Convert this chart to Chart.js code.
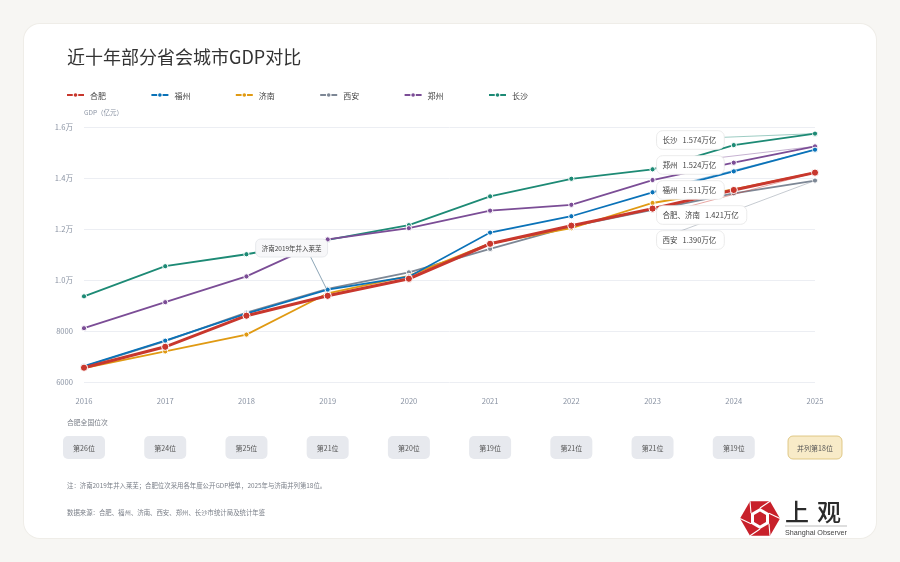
<!DOCTYPE html>
<html lang="zh-CN">
<head>
<meta charset="utf-8">
<title>近十年部分省会城市GDP对比</title>
<script src="https://cdn.jsdelivr.net/npm/chart.js@4.4.1/dist/chart.umd.min.js"></script>
<style>
  html, body { margin: 0; padding: 0; }
  body { width: 900px; height: 562px; background: #f7f6f3; position: relative; overflow: hidden;
         font-family: "Noto Sans CJK SC", "Noto Sans", sans-serif; }
  .card { position: absolute; left: 24px; top: 24px; width: 852px; height: 514px; background: #fff;
          border-radius: 16px; box-shadow: 0 0 0 1px #efede8; }
  .card canvas { position: absolute; left: 0; top: 0; }
  .title { position: absolute; left: 43px; top: 19px; font-size: 18px; line-height: 26px; color: #333; }
  .note { position: absolute; left: 43px; font-size: 6.4px; line-height: 8px; color: #7a7f88; white-space: nowrap; }
  .logo { position: absolute; left: 714px; top: 472px; width: 136px; height: 44px; }
  .logo-cn { position: absolute; left: 761px; top: 472px; font-size: 24px; line-height: 30px; letter-spacing: 8px;
             color: #2b2b2b; font-weight: 500; }
  .logo-rule { position: absolute; left: 761px; top: 501px; width: 62px; height: 2px; background: #dedede; }
  .logo-en { position: absolute; left: 761px; top: 504px; font-family: "Liberation Sans", Arial, sans-serif;
             font-size: 7.2px; line-height: 9px; color: #444; white-space: nowrap; }
</style>
</head>
<body>
<div class="card">
  <canvas id="gdp" width="852" height="514" style="width:852px;height:514px"></canvas>
  <div class="title">近十年部分省会城市GDP对比</div>
  <div class="note" style="top:458px">注：济南2019年并入莱芜；合肥位次采用各年度公开GDP榜单，2025年与济南并列第18位。</div>
  <div class="note" style="top:485px">数据来源：合肥、福州、济南、西安、郑州、长沙市统计局及统计年鉴</div>
  <svg class="logo" viewBox="0 0 136 44">
    <polygon points="42,22.5 32,39.8 12,39.8 2,22.5 12,5.2 32,5.2" fill="#c8202a"/>
    <polygon points="22,12 31,17.2 31,27.8 22,33 13,27.8 13,17.2" fill="#fff"/>
    <polygon points="22,15.5 28,19 28,26 22,29.5 16,26 16,19" fill="#c8202a"/>
    <g stroke="#fff" stroke-width="1.1">
      <line x1="22" y1="12" x2="32" y2="5.2"/>
      <line x1="31" y1="17.2" x2="42" y2="22.5"/>
      <line x1="31" y1="27.8" x2="32" y2="39.8"/>
      <line x1="22" y1="33" x2="12" y2="39.8"/>
      <line x1="13" y1="27.8" x2="2" y2="22.5"/>
      <line x1="13" y1="17.2" x2="12" y2="5.2"/>
    </g>
  </svg>
  <div class="logo-cn">上观</div>
  <div class="logo-rule"></div>
  <div class="logo-en">Shanghai Observer</div>
</div>
<script>
// 年份与各城市GDP（亿元）
const years = ['2016', '2017', '2018', '2019', '2020', '2021', '2022', '2023', '2024', '2025'];
const cityNames = ['合肥', '福州', '济南', '西安', '郑州', '长沙'];
const hefei = [6560, 7380, 8600, 9380, 10050, 11420, 12130, 12800, 13530, 14210];
const fuzhou = [6620, 7620, 8680, 9620, 10130, 11860, 12500, 13440, 14260, 15110];
const jinan = [6540, 7200, 7860, 9480, 10160, 11440, 12030, 13020, 13550, 14210];
const xian = [6600, 7600, 8720, 9650, 10300, 11220, 12100, 12750, 13400, 13900];
const zhengzhou = [8110, 9130, 10140, 11590, 12030, 12720, 12950, 13920, 14600, 15240];
const changsha = [9360, 10540, 11010, 11570, 12150, 13280, 13970, 14340, 15290, 15740];

// 合肥全国位次
const hefeiRanks = ['第26位', '第24位', '第25位', '第21位', '第20位', '第19位', '第21位', '第21位', '第19位', '并列第18位'];

// 2025年末端标注（名称 + 取值的城市序号）
const endLabelNames = ['长沙', '郑州', '福州', '合肥、济南', '西安'];
const endLabelSeries = [5, 4, 1, 0, 3];

const yTicks = [6000, 8000, 10000, 12000, 14000, 16000];

const colors = ['#c8372d', '#0a72b8', '#e09a13', '#7d8795', '#7b4d96', '#1d8a75'];
const FONT = '"Noto Sans CJK SC", "Noto Sans", sans-serif';

Chart.defaults.font.family = FONT;

const series = [hefei, fuzhou, jinan, xian, zhengzhou, changsha];

const datasets = series.map((values, i) => ({
  label: cityNames[i],
  data: values,
  borderColor: colors[i],
  backgroundColor: colors[i],
  pointBackgroundColor: colors[i],
  pointBorderColor: '#fff',
  pointBorderWidth: 1,
  borderWidth: i === 0 ? 3 : 1.8,
  pointRadius: i === 0 ? 3.6 : 2.6,
  tension: 0,
  fill: false
}));

const roundBox = (ctx, x, y, w, h, r, fill, stroke) => {
  ctx.beginPath();
  ctx.roundRect(x, y, w, h, r);
  ctx.fillStyle = fill;
  ctx.fill();
  if (stroke) {
    ctx.lineWidth = 0.8;
    ctx.strokeStyle = stroke;
    ctx.stroke();
  }
};

const decorPlugin = {
  id: 'decor',
  afterDatasetsDraw(chart) {
    const {ctx, chartArea, scales: {x, y}} = chart;
    const last = years.length - 1;
    ctx.save();

    // 济南2019年并入莱芜
    const jx = x.getPixelForValue(3);
    const jy = y.getPixelForValue(jinan[3]);
    const bx = jx - 72, by = chartArea.top + 112;
    ctx.font = '6.5px ' + FONT;
    const jText = '济南2019年并入莱芜';
    const jw = ctx.measureText(jText).width + 12;
    ctx.beginPath();
    ctx.moveTo(bx + 55, by + 18);
    ctx.lineTo(jx - 1, jy - 4);
    ctx.strokeStyle = '#6f8ea3';
    ctx.lineWidth = 0.8;
    ctx.stroke();
    roundBox(ctx, bx, by, jw, 18, 5, '#f7f7f9', '#e2e4e8');
    ctx.fillStyle = '#444';
    ctx.textBaseline = 'middle';
    ctx.fillText(jText, bx + 6, by + 9.5);

    // 末端标注
    const lx = x.getPixelForValue(7) + 4;
    ctx.font = '7.5px ' + FONT;
    const boxes = endLabelNames.map((name, i) => {
      const s = endLabelSeries[i];
      const v = series[s][last];
      const value = (v / 10000).toFixed(3) + '万亿';
      const nameW = ctx.measureText(name).width;
      const cy = chartArea.top + 13 + i * 25;
      return {name, value, nameW, cy, w: nameW + 5 + ctx.measureText(value).width + 14, s, v};
    });
    boxes.forEach((b) => {
      ctx.beginPath();
      ctx.moveTo(lx, b.cy);
      ctx.lineTo(x.getPixelForValue(last), y.getPixelForValue(b.v));
      ctx.strokeStyle = colors[b.s];
      ctx.globalAlpha = 0.55;
      ctx.lineWidth = 0.8;
      ctx.stroke();
      ctx.globalAlpha = 1;
    });
    boxes.forEach((b) => {
      roundBox(ctx, lx, b.cy - 9.3, b.w, 18.6, 6, '#fff', '#e6e6e6');
      ctx.fillStyle = '#444';
      ctx.textBaseline = 'middle';
      ctx.fillText(b.name, lx + 6, b.cy + 0.5);
      ctx.fillText(b.value, lx + 6 + b.nameW + 5, b.cy + 0.5);
    });
    ctx.restore();
  },
  afterDraw(chart) {
    const {ctx, chartArea, scales: {x}} = chart;
    ctx.save();
    ctx.textBaseline = 'middle';

    // 图例
    cityNames.forEach((name, i) => {
      const lx = 43 + i * 84.4, ly = 71;
      ctx.beginPath();
      ctx.moveTo(lx, ly);
      ctx.lineTo(lx + 17, ly);
      ctx.strokeStyle = colors[i];
      ctx.lineWidth = 2;
      ctx.stroke();
      ctx.beginPath();
      ctx.arc(lx + 8.5, ly, 2.8, 0, Math.PI * 2);
      ctx.fillStyle = '#fff';
      ctx.fill();
      ctx.beginPath();
      ctx.arc(lx + 8.5, ly, 1.8, 0, Math.PI * 2);
      ctx.fillStyle = colors[i];
      ctx.fill();
      ctx.font = '8px ' + FONT;
      ctx.fillStyle = '#444';
      ctx.fillText(name, lx + 23, ly + 0.5);
    });

    // 单位
    ctx.font = '6.5px ' + FONT;
    ctx.fillStyle = '#8a93a3';
    ctx.fillText('GDP（亿元）', chartArea.left, 89);

    // 合肥全国位次
    ctx.font = '6.8px ' + FONT;
    ctx.fillStyle = '#7a7f88';
    ctx.fillText('合肥全国位次', 43, 398);
    ctx.font = '7px ' + FONT;
    hefeiRanks.forEach((r, i) => {
      const cx = x.getPixelForValue(i);
      const isLast = i === hefeiRanks.length - 1;
      const w = isLast ? 54 : 42;
      roundBox(ctx, cx - w / 2, 412, w, 23, 5, isLast ? '#f8ebc8' : '#e7e9ee', isLast ? '#d8bd6e' : null);
      ctx.fillStyle = '#555';
      ctx.textAlign = 'center';
      ctx.fillText(r, cx, 424);
    });
    ctx.restore();
  }
};

new Chart(document.getElementById('gdp'), {
  type: 'line',
  data: {labels: years, datasets},
  options: {
    responsive: false,
    animation: false,
    layout: {padding: {top: 103, right: 61, bottom: 126, left: 0}},
    plugins: {legend: {display: false}, title: {display: false}, tooltip: {enabled: false}},
    scales: {
      x: {
        grid: {display: false, drawTicks: false},
        border: {display: false},
        ticks: {padding: 15, color: '#8a93a3', font: {size: 7.6}, maxRotation: 0},
        afterFit: (s) => { s.height = 30; }
      },
      y: {
        min: yTicks[0],
        max: yTicks[yTicks.length - 1],
        afterBuildTicks: (s) => { s.ticks = yTicks.map((v) => ({value: v})); },
        grid: {color: '#eceef3', drawTicks: false, lineWidth: 1},
        border: {display: false},
        ticks: {
          padding: 11,
          color: '#8a93a3',
          font: {size: 7.6},
          callback: (v) => (v >= 10000 ? (v / 10000).toFixed(1) + '万' : String(v))
        },
        afterFit: (s) => { s.width = 60; }
      }
    }
  },
  plugins: [decorPlugin]
});
</script>
</body>
</html>
